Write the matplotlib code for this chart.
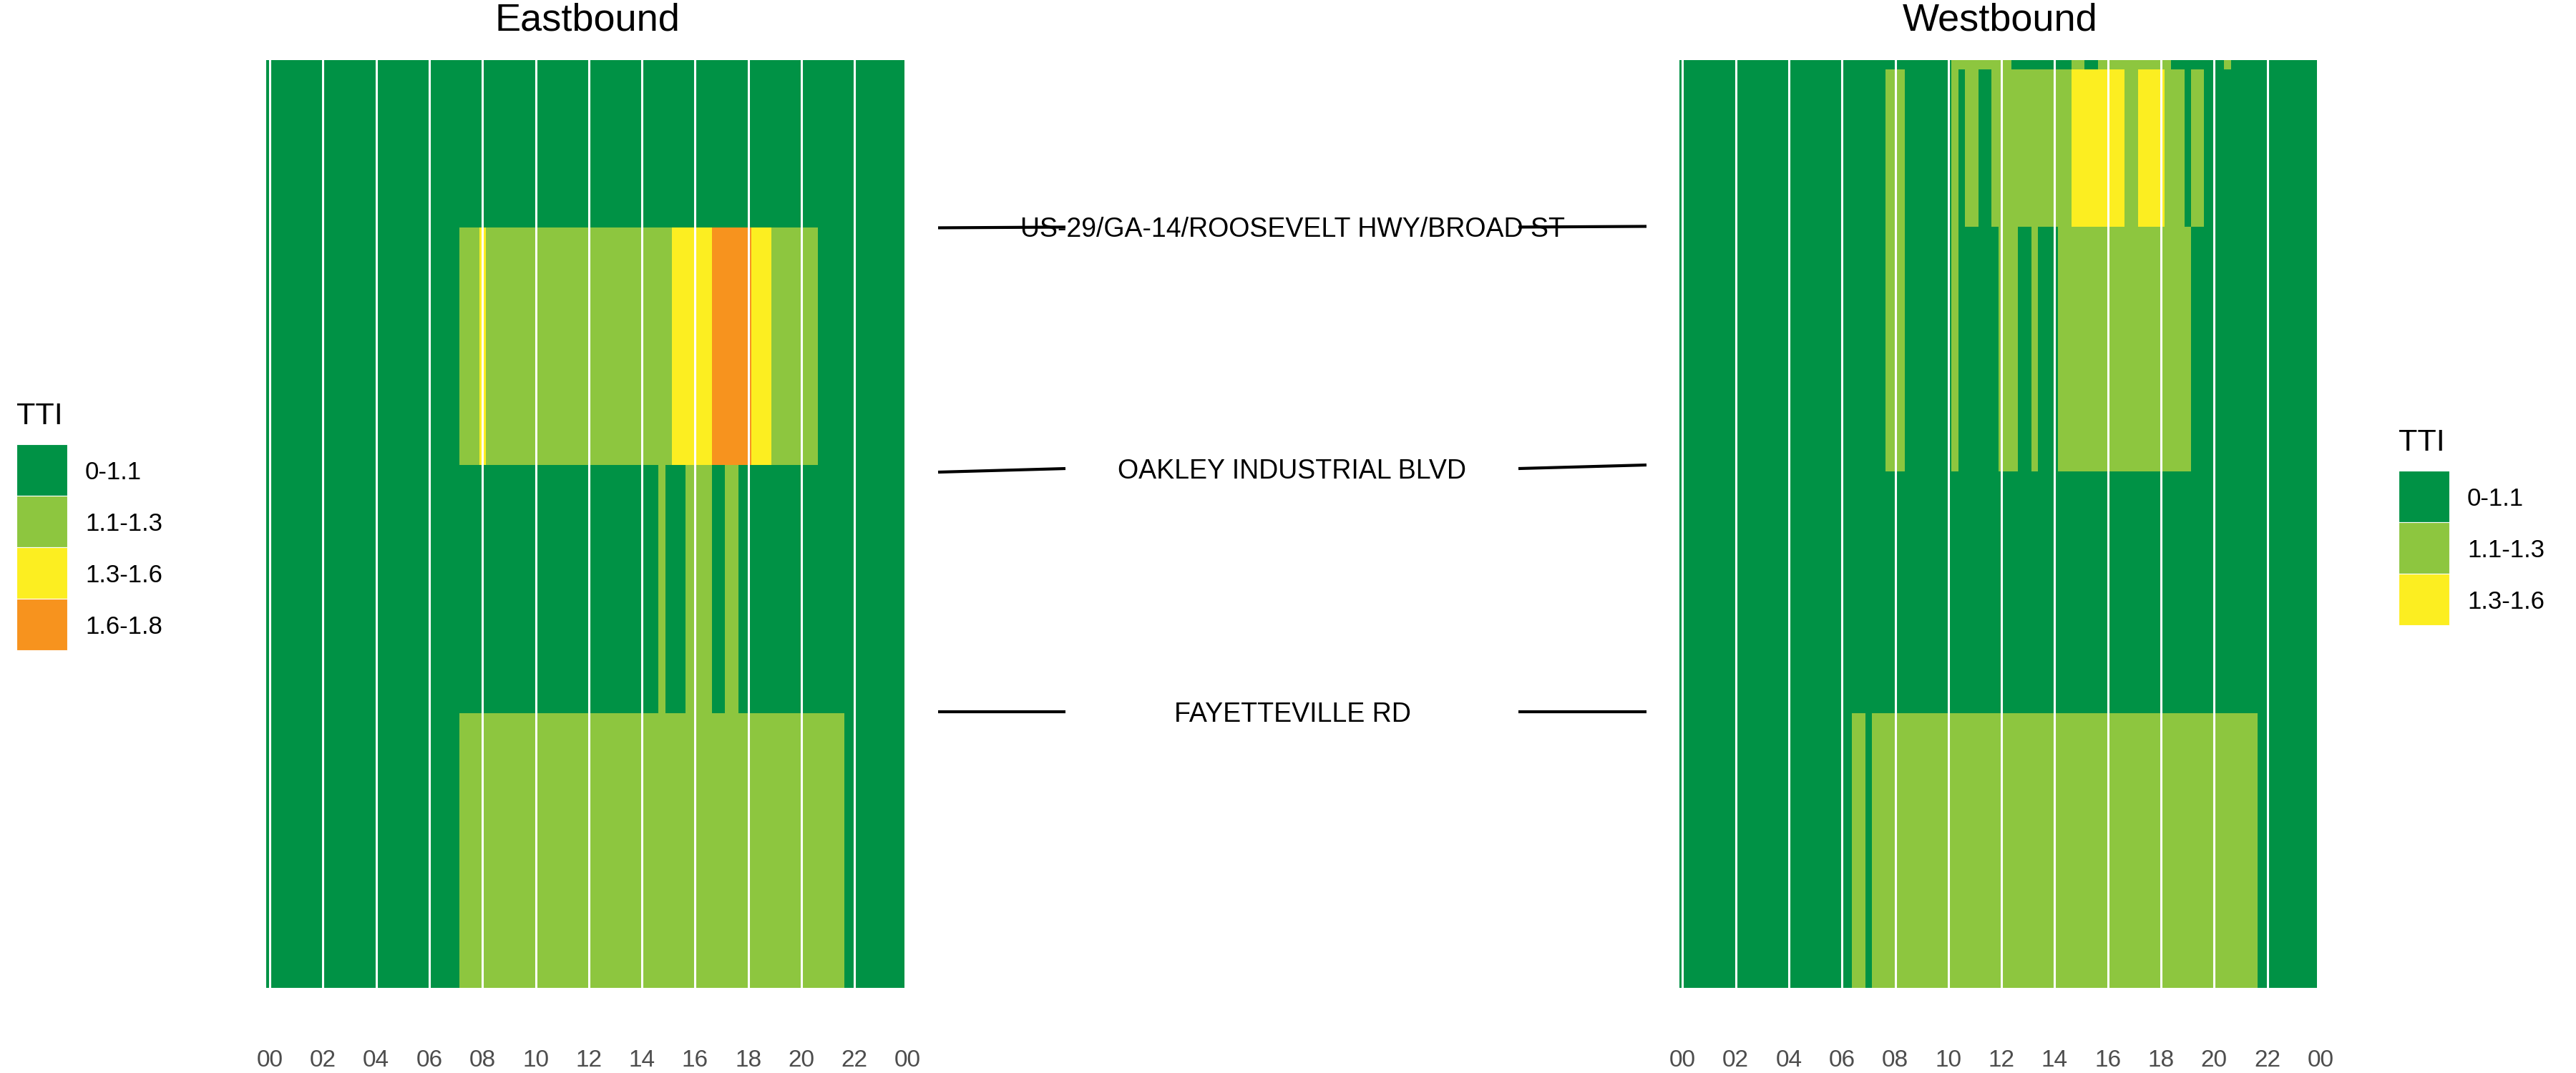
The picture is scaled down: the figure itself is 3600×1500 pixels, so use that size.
import matplotlib.pyplot as plt
import numpy as np
from matplotlib.colors import BoundaryNorm, ListedColormap
from matplotlib.patches import Rectangle

plt.rcParams["font.family"] = ["Liberation Sans", "DejaVu Sans"]

# TTI classes
tti_labels = ["0-1.1", "1.1-1.3", "1.3-1.6", "1.6-1.8"]
tti_colors = ["#009245", "#8DC63F", "#FCEE21", "#F7931E"]

hour_ticks = [0, 2, 4, 6, 8, 10, 12, 14, 16, 18, 20, 22, 24]
hour_labels = ["00", "02", "04", "06", "08", "10", "12", "14", "16", "18", "20", "22", "00"]

# segment lengths along the corridor (miles, top to bottom)
east_lengths = [0.705, 0.998, 1.042, 1.155]
west_lengths = [0.039, 0.662, 1.028, 1.016, 1.155]

# TTI class per 15-minute bin, one group of 4 per hour (00 .. 23)
east_tti = [
    "0000 0000 0000 0000 0000 0000 0000 0000 0000 0000 0000 0000 0000 0000 0000 0000 0000 0000 0000 0000 0000 0000 0000 0000",
    "0000 0000 0000 0000 0000 0000 0000 0111 2111 1111 1111 1111 1111 1111 1111 1222 2223 3333 3222 1111 1110 0000 0000 0000",
    "0000 0000 0000 0000 0000 0000 0000 0000 0000 0000 0000 0000 0000 0000 0001 0001 1110 0110 0000 0000 0000 0000 0000 0000",
    "0000 0000 0000 0000 0000 0000 0000 0111 1111 1111 1111 1111 1111 1111 1111 1111 1111 1111 1111 1111 1111 1110 0000 0000",
]
west_tti = [
    "0000 0000 0000 0000 0000 0000 0000 0000 0000 0000 0111 1111 1100 0000 0001 1001 1111 1111 1100 0000 0010 0000 0000 0000",
    "0000 0000 0000 0000 0000 0000 0000 0001 1100 0000 0101 1001 1111 1111 1112 2222 2221 1222 2111 0110 0000 0000 0000 0000",
    "0000 0000 0000 0000 0000 0000 0000 0001 1100 0000 0100 0000 1110 0100 0111 1111 1111 1111 1111 1000 0000 0000 0000 0000",
    "0000 0000 0000 0000 0000 0000 0000 0000 0000 0000 0000 0000 0000 0000 0000 0000 0000 0000 0000 0000 0000 0000 0000 0000",
    "0000 0000 0000 0000 0000 0000 0011 0111 1111 1111 1111 1111 1111 1111 1111 1111 1111 1111 1111 1111 1111 1110 0000 0000",
]

# cross streets between the two panels (miles from top, at left / right end)
cross_streets = ["US-29/GA-14/ROOSEVELT HWY/BROAD ST", "OAKLEY INDUSTRIAL BLVD", "FAYETTEVILLE RD"]
cross_left_mi = [0.705, 1.732, 2.738]
cross_right_mi = [0.699, 1.702, 2.738]

W, H = 3600, 1500
px_per_hour = 37.15
panel_top, panel_h = 84, 1297


def px_rect(left, top, width, height):
    return [left / W, 1 - (top + height) / H, width / W, height / H]


def to_grid(rows):
    return np.array([[int(c) for c in r.replace(" ", "")] for r in rows])


cmap = ListedColormap(tti_colors)
norm = BoundaryNorm(np.arange(len(tti_colors) + 1) - 0.5, len(tti_colors))
x_edges = np.arange(97) * 0.25 - 0.125
total_mi = sum(east_lengths)

fig = plt.figure(figsize=(W / 100, H / 100), dpi=100)

panels = [
    ("Eastbound", east_lengths, east_tti, 372.4),
    ("Westbound", west_lengths, west_tti, 2346.7),
]
for title, lengths, rows, left in panels:
    ax = fig.add_axes(px_rect(left, panel_top, 24.125 * px_per_hour, panel_h))
    y_edges = np.concatenate([[0], np.cumsum(lengths)])
    ax.pcolormesh(x_edges, y_edges, to_grid(rows), cmap=cmap, norm=norm,
                  shading="flat", antialiased=False, edgecolors="none")
    for h in range(0, 24, 2):
        ax.axvline(h, color="white", lw=2.2)
    ax.set_xlim(-0.125, 24)
    ax.set_ylim(total_mi, 0)
    ax.set_xticks(hour_ticks, hour_labels)
    ax.set_yticks([])
    ax.tick_params(axis="x", length=0, pad=62, labelsize=24, labelcolor="#4D4D4D")
    for s in ax.spines.values():
        s.set_visible(False)
    ax.set_title(title, fontsize=39, pad=30)

# cross street labels with leader lines
ax_mid = fig.add_axes(px_rect(1266, panel_top, 1080, panel_h))
ax_mid.set_xlim(1266, 2346)
ax_mid.set_ylim(total_mi, 0)
ax_mid.axis("off")
for name, yl, yr in zip(cross_streets, cross_left_mi, cross_right_mi):
    ym = (yl + yr) / 2
    ax_mid.plot([1311, 1489], [yl, ym], color="black", lw=3, solid_capstyle="butt")
    ax_mid.plot([2122, 2301], [ym, yr], color="black", lw=3, solid_capstyle="butt")
    ax_mid.text(1806, ym, name, fontsize=27, ha="center", va="center_baseline")

# legends (one per panel, only classes that occur)
ax_leg = fig.add_axes([0, 0, 1, 1])
ax_leg.set_xlim(0, W)
ax_leg.set_ylim(H, 0)
ax_leg.axis("off")
legends = [(east_tti, 23, 593), (west_tti, 3352, 630)]
for rows, lx, ty in legends:
    used = sorted(set(to_grid(rows).ravel()))
    ax_leg.text(lx, ty, "TTI", fontsize=31, ha="left", va="baseline")
    for i, c in enumerate(used):
        y0 = ty + 28 + i * 72
        ax_leg.add_patch(Rectangle((lx, y0), 71, 72, facecolor=tti_colors[c],
                                   edgecolor="white", lw=0.8))
        ax_leg.text(lx + 96, y0 + 36, tti_labels[c], fontsize=25,
                    ha="left", va="center_baseline")

fig.savefig("out.png", dpi=100)
